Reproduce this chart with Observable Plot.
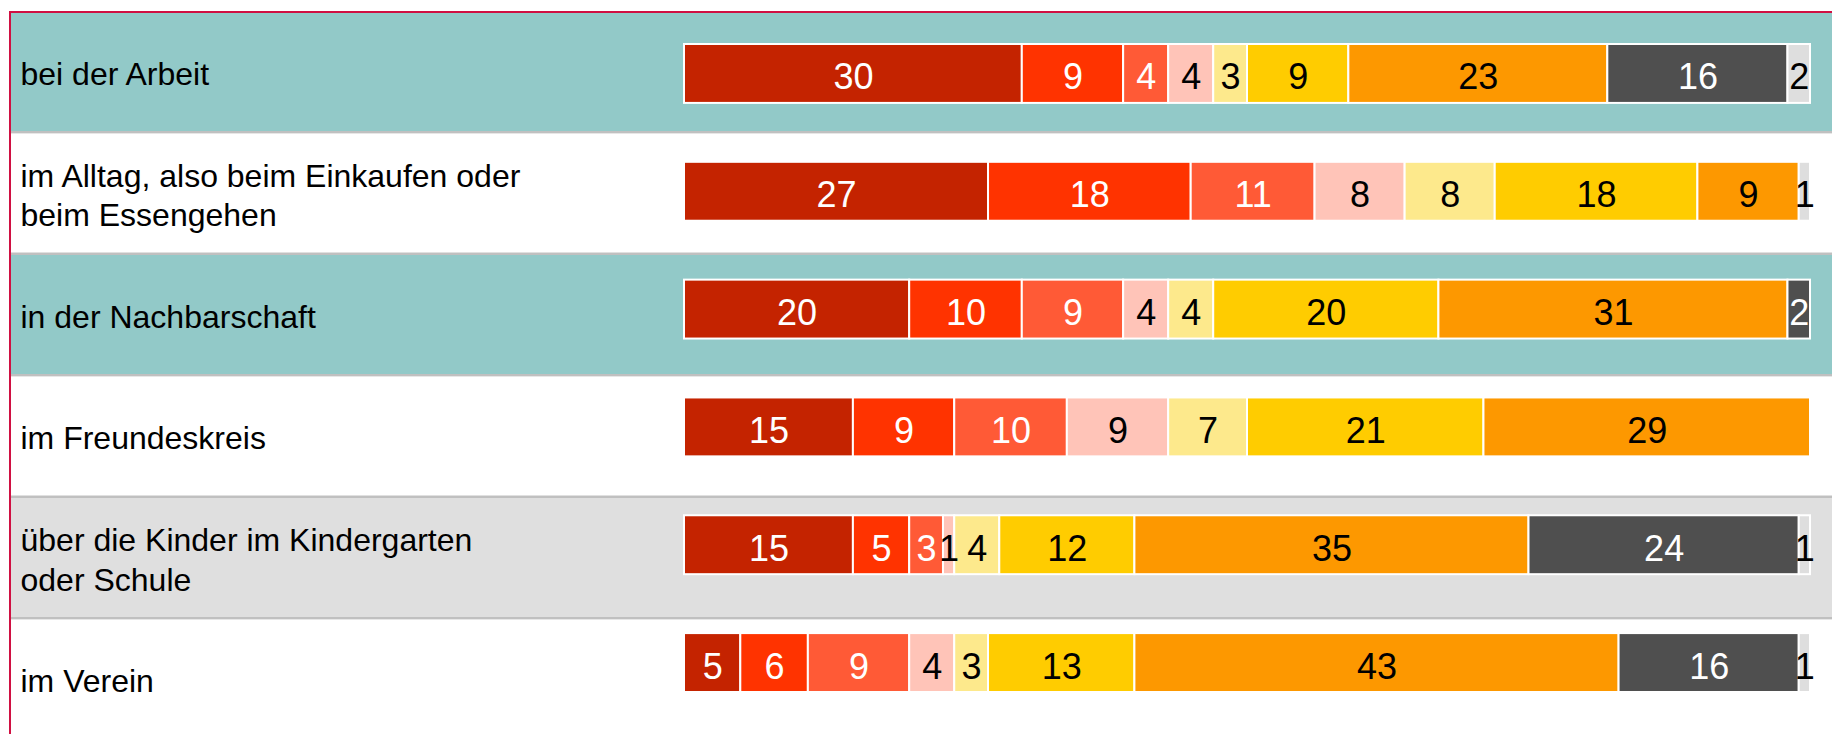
<!DOCTYPE html>
<html>
<head>
<meta charset="utf-8">
<script src="https://cdn.jsdelivr.net/npm/d3@7"></script>
<script src="https://cdn.jsdelivr.net/npm/@observablehq/plot@0.6"></script>
<style>
  html, body { margin: 0; padding: 0; background: #ffffff; overflow: hidden; }
  #chart { position: relative; width: 1832px; height: 734px; overflow: hidden; }
  #chart svg { position: absolute; left: 0; top: 0; }
  #border { position: absolute; left: 9px; top: 11px; right: 0; bottom: 0;
            border-top: 2px solid #d01042; border-left: 2px solid #d01042;
            pointer-events: none; z-index: 5; }
</style>
</head>
<body>
<div id="chart"><div id="border"></div></div>
<script>
// ---- data ----
const rows = [
  "bei der Arbeit",
  "im Alltag, also beim Einkaufen oder\nbeim Essengehen",
  "in der Nachbarschaft",
  "im Freundeskreis",
  "über die Kinder im Kindergarten\noder Schule",
  "im Verein"
];
const series = ["Kategorie 1", "Kategorie 2", "Kategorie 3", "Kategorie 4", "Kategorie 5",
                "Kategorie 6", "Kategorie 7", "Kategorie 8", "Kategorie 9"];
const arbeit        = [30, 9, 4, 4, 3, 9, 23, 16, 2];
const alltag        = [27, 18, 11, 8, 8, 18, 9, 0, 1];
const nachbarschaft = [20, 10, 9, 4, 4, 20, 31, 2, 0];
const freundeskreis = [15, 9, 10, 9, 7, 21, 29, 0, 0];
const kinder        = [15, 5, 3, 1, 4, 12, 35, 24, 1];
const verein        = [5, 6, 9, 4, 3, 13, 43, 16, 1];
const rowValues = [arbeit, alltag, nachbarschaft, freundeskreis, kinder, verein];

// ---- styles ----
const seriesColors = ["#c42300", "#ff3300", "#ff5a36", "#ffc4b8", "#fde98c",
                      "#ffcc00", "#fd9800", "#4f4f4f", "#dedede"];
const textColors   = ["white", "white", "white", "black", "black",
                      "black", "black", "white", "black"];
const bandColors   = ["#92c9c8", "#ffffff", "#92c9c8", "#ffffff", "#dfdfdf", "#ffffff"];

const data = rows.flatMap((r, i) =>
  rowValues[i].map((v, j) => ({row: r, series: series[j], idx: j, value: v}))
).filter(d => d.value > 0);

const W = 1832, H = 734;
const font = "'Liberation Sans', Arial, sans-serif";

const bg = Plot.plot({
  width: W, height: H,
  marginLeft: 11, marginRight: 0, marginTop: 0, marginBottom: 0,
  style: {fontFamily: font, background: "#ffffff"},
  y: {domain: rows, range: [12, 741], padding: 0, round: false, axis: null},
  color: {type: "identity"},
  marks: [
    Plot.cell(rows, {y: d => d, fill: "#c0c0c0"}),
    Plot.cell(rows, {y: d => d, fill: (d, i) => bandColors[i], insetBottom: 2.5}),
    Plot.text(rows, {y: d => d, text: d => d, frameAnchor: "left", textAnchor: "start",
                     dx: 9, dy: -1, fontSize: 32, lineHeight: 1.23, fill: "black"})
  ]
});

const fg = Plot.plot({
  width: W, height: H,
  marginLeft: 684, marginRight: 22, marginTop: 0, marginBottom: 0,
  style: {fontFamily: font, background: "transparent"},
  x: {domain: [0, 100], axis: null},
  y: {domain: rows, range: [44, 692], paddingInner: 0.5, paddingOuter: 0, round: false, axis: null},
  color: {type: "identity"},
  marks: [
    Plot.barX(data, Plot.stackX({x: "value", y: "row", z: "series",
      fill: d => seriesColors[d.idx], stroke: "white", strokeWidth: 2})),
    Plot.text(data, Plot.stackX({x: "value", y: "row", z: "series",
      text: d => String(d.value), fill: d => textColors[d.idx], fontSize: 36, dy: 4}))
  ]
});

const chart = document.getElementById("chart");
chart.insertBefore(fg, chart.firstChild);
chart.insertBefore(bg, chart.firstChild);
</script>
</body>
</html>
